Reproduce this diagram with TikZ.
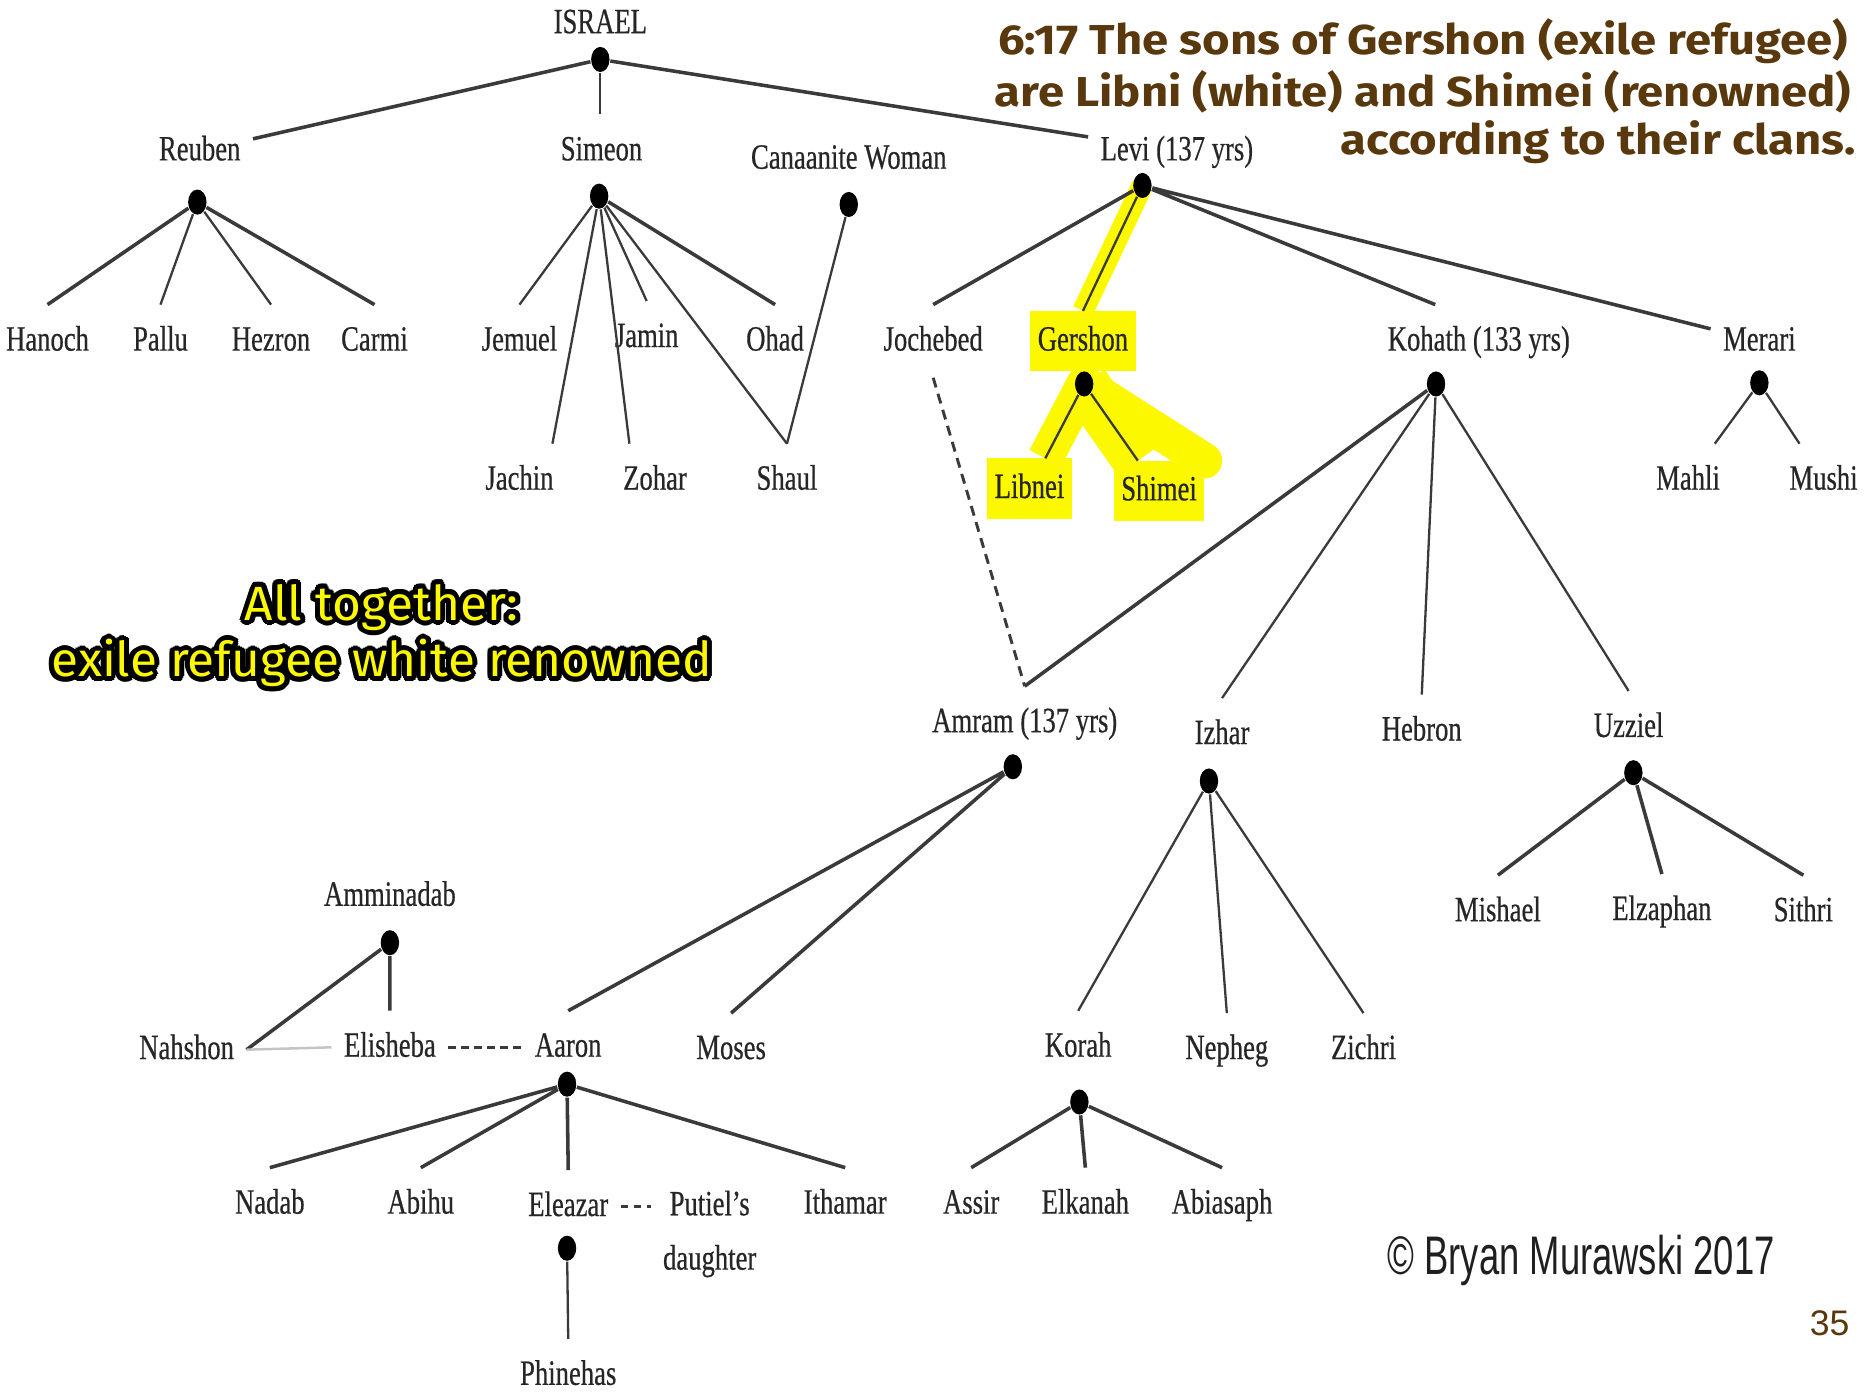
\documentclass[tikz,border=0pt]{standalone}
\usepackage{fontspec}
\usepackage[copies]{contour}
\setmainfont{Liberation Serif}
\newfontfamily\namefont[FakeStretch=0.75,FakeBold=0.5]{Liberation Serif}
\newfontfamily\versefont[FakeStretch=1.13]{Fira Sans}
\newfontfamily\summaryfont[FakeStretch=1.03]{Fira Sans}
\newfontfamily\creditfont[FakeStretch=0.67]{Liberation Sans}
\newfontfamily\slidefont{Liberation Sans}
\usetikzlibrary{shapes.geometric,backgrounds}
\definecolor{linegray}{HTML}{3A3A3A}
\definecolor{faintgray}{HTML}{C4C4C4}
\definecolor{versebrown}{RGB}{88,56,12}
\definecolor{hilite}{RGB}{252,248,0}
\contourlength{1.2pt}
\contournumber{16}
\tikzset{
        person/.style={font=\namefont\fontsize{8.5}{10}\selectfont, text=black!85, inner sep=1pt, outer xsep=2pt, outer ysep=4pt, text height=6pt, text depth=1.5pt},
        marked/.style={fill=hilite, inner xsep=1.8pt, inner ysep=3.5pt, outer sep=0pt},
        joint/.style={ellipse, fill=black, inner sep=0pt, minimum width=4.4pt, minimum height=6pt},
        kinline/.style={draw=linegray, line width=0.85pt},
        kinthin/.style={draw=linegray, line width=0.55pt},
        inlaw/.style={draw=faintgray, line width=0.6pt},
        wedlock/.style={draw=linegray, line width=0.7pt, dash pattern=on 2.4pt off 1.6pt},
        shortdash/.style={draw=linegray, line width=0.7pt, dash pattern=on 1.8pt off 1.3pt},
        hiband/.style={draw=hilite, line width=#1, line join=round},
        verse/.style={font=\versefont\bfseries\fontsize{10}{12}\selectfont, text=versebrown, inner sep=0pt},
        summary/.style={font=\summaryfont\fontsize{11.5}{13}\selectfont, text=hilite, inner sep=0pt},
        credit/.style={font=\creditfont\fontsize{13}{15}\selectfont, text=black!88, inner sep=0pt},
        slideno/.style={font=\slidefont\fontsize{8.5}{10}\selectfont, text=versebrown, inner sep=0pt}
          }
\begin{document}
\begin{tikzpicture}[x=0.01cm, y=-0.01cm]
        \useasboundingbox (0,0) rectangle (1568,1175);
        \node[person] (israel) at (505,20) {ISRAEL};
        \node[joint] (israeldot) at (505,50) {};
        \node[person] (reuben) at (168,127) {Reuben};
        \node[joint] (reubendot) at (166,170) {};
        \node[person] (simeon) at (506,127) {Simeon};
        \node[joint] (simeondot) at (504,165) {};
        \node[person] (canaanite) at (714,134) {Canaanite Woman};
        \node[joint] (canaanitedot) at (714,172) {};
        \node[person] (levi) at (990,127) {Levi (137 yrs)};
        \node[joint] (levidot) at (961,156) {};

        \node[person] (hanoch) at (40,287) {Hanoch};
        \node[person] (pallu) at (135,287) {Pallu};
        \node[person] (hezron) at (228,287) {Hezron};
        \node[person] (carmi) at (315,287) {Carmi};
        \node[person] (jemuel) at (437,287) {Jemuel};
        \node[person] (jamin) at (544,284) {Jamin};
        \node[person] (ohad) at (652,287) {Ohad};
        \node[person] (jachin) at (437,404) {Jachin};
        \node[person] (zohar) at (551,404) {Zohar};
        \node[person] (shaul) at (662,404) {Shaul};

        \node[person] (jochebed) at (785,287) {Jochebed};
        \node[person, marked] (gershon) at (911,287) {Gershon};
        \node[joint] (gershondot) at (912,323) {};
        \node[person, marked] (libnei) at (866,411) {Libnei};
        \node[person, marked] (shimei) at (975,413) {Shimei};
        \node[person] (kohath) at (1244,287) {Kohath (133 yrs)};
        \node[joint] (kohathdot) at (1208,323) {};
        \node[person] (merari) at (1480,287) {Merari};
        \node[joint] (meraridot) at (1480,322) {};
        \node[person] (mahli) at (1420,404) {Mahli};
        \node[person] (mushi) at (1534,404) {Mushi};

        \node[person] (amram) at (862,608) {Amram (137 yrs)};
        \node[joint] (amramdot) at (852,645) {};
        \node[person] (izhar) at (1028,618) {Izhar};
        \node[joint] (izhardot) at (1017,657) {};
        \node[person] (hebron) at (1196,615) {Hebron};
        \node[person] (uzziel) at (1370,612) {Uzziel};
        \node[joint] (uzzieldot) at (1374,650) {};
        \node[person] (mishael) at (1260,767) {Mishael};
        \node[person] (elzaphan) at (1398,766) {Elzaphan};
        \node[person] (sithri) at (1517,767) {Sithri};

        \node[person] (amminadab) at (328,754) {Amminadab};
        \node[joint] (amminadabdot) at (328,793) {};
        \node[person] (nahshon) at (157,883) {Nahshon};
        \node[person] (elisheba) at (328,881) {Elisheba};
        \node[person] (aaron) at (478,881) {Aaron};
        \node[joint] (aarondot) at (477,912) {};
        \node[person] (moses) at (615,883) {Moses};
        \node[person] (korah) at (907,881) {Korah};
        \node[joint] (korahdot) at (908,927) {};
        \node[person] (nepheg) at (1032,883) {Nepheg};
        \node[person] (zichri) at (1147,883) {Zichri};

        \node[person] (nadab) at (227,1013) {Nadab};
        \node[person] (abihu) at (354,1013) {Abihu};
        \node[person] (eleazar) at (478,1015) {Eleazar};
        \node[joint] (eleazardot) at (477,1050) {};
        \node[person, text height=, text depth=, align=center] (putiel) at (597,1038) {Putiel’s\\[3pt]daughter};
        \node[person] (ithamar) at (711,1013) {Ithamar};
        \node[person] (phinehas) at (478,1157) {Phinehas};
        \node[person] (assir) at (817,1013) {Assir};
        \node[person] (elkanah) at (913,1013) {Elkanah};
        \node[person] (abiasaph) at (1028,1013) {Abiasaph};

        \begin{scope}[on background layer]
          \draw[hiband=0.18cm] (levidot.center) -- (gershon.north);
          \draw[hiband=0.3cm] (gershondot.center) -- (libnei);
          \draw[hiband=0.42cm] (gershondot.center) -- (shimei);
          \draw[hiband=0.3cm, line cap=round] (gershondot.center) -- (shimei.north east);
        \end{scope}

        \draw[kinline] (israeldot) -- (reuben) (israeldot) -- (levi);
        \draw[kinthin] (israeldot) -- (israeldot |- simeon.north);
        \draw[kinline] (reubendot) -- (hanoch.north) (reubendot) -- (carmi.north);
        \draw[kinthin] (reubendot) -- (pallu.north) (reubendot) -- (hezron.north);
        \draw[kinthin] (simeondot) -- (jemuel.north) (simeondot) -- (jamin.north) (simeondot) -- (jachin.48) (simeondot) -- (zohar.125) (simeondot) -- (shaul.north);
        \draw[kinline] (simeondot) -- (ohad.north);
        \draw[kinthin] (canaanitedot) -- (shaul.north);
        \draw[kinline] (levidot) -- (jochebed.north) (levidot) -- (kohath.140) (levidot) -- (merari);
        \draw[kinthin] (levidot) -- (gershon.north);
        \draw[kinthin] (gershondot) -- (libnei) (gershondot) -- (shimei);
        \draw[kinthin] (meraridot) -- (mahli) (meraridot) -- (mushi);
        \draw[wedlock] (jochebed.south) -- (amram.north);
        \draw[kinline] (kohathdot) -- (amram.north);
        \draw[kinthin] (kohathdot) -- (izhar.north) (kohathdot) -- (hebron.north) (kohathdot) -- (uzziel.north);
        \draw[kinline] (amramdot) -- (aaron.north) (amramdot) -- (moses.north);
        \draw[kinthin] (izhardot) -- (korah.north) (izhardot) -- (nepheg.north) (izhardot) -- (zichri.north);
        \draw[kinline] (uzzieldot) -- (mishael.north) (uzzieldot) -- (elzaphan.north) (uzzieldot) -- (sithri.north);
        \draw[kinline] (amminadabdot) -- (nahshon.east) (amminadabdot) -- (elisheba.north);
        \draw[inlaw] (nahshon.east) -- (elisheba.west);
        \draw[shortdash] (elisheba.east) -- (aaron.west);
        \draw[shortdash] (eleazar.east) -- (eleazar.east -| putiel.west);
        \draw[kinline] (aarondot) -- (nadab.north) (aarondot) -- (abihu.north) (aarondot) -- (eleazar.north) (aarondot) -- (ithamar.north);
        \draw[kinthin] (eleazardot) -- (phinehas.north);
        \draw[kinline] (korahdot) -- (assir.north) (korahdot) -- (elkanah.north) (korahdot) -- (abiasaph.north);

        \node[verse] (verse1) at (1197,35) {6:17 The sons of Gershon (exile refugee)};
        \node[verse] (verse2) at (1197,77) {are Libni (white) and Shimei (renowned)};
        \node[verse, anchor=east] (verse3) at (1562,120) {according to their clans.};
        \node[summary] (summary1) at (321,513) {\contour{black}{All together:}};
        \node[summary] (summary2) at (321,560) {\contour{black}{exile refugee white renowned}};
        \node[credit] (credit) at (1330,1060) {© Bryan Murawski 2017};
        \node[slideno] (slideno) at (1539,1113) {35};
\end{tikzpicture}
\end{document}
